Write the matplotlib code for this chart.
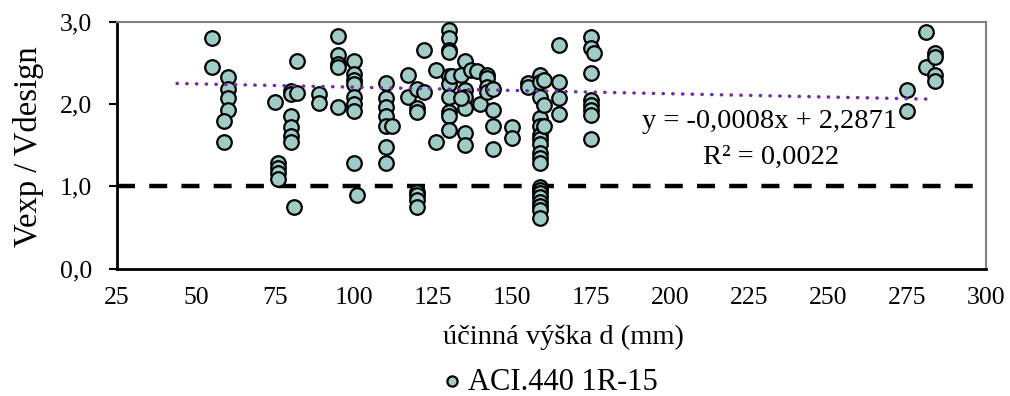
import matplotlib
matplotlib.use("Agg")
import matplotlib.pyplot as plt
import numpy as np

# ---- data ----
d_mm = [55, 55,
        60, 60, 60, 60, 59, 59,
        75, 76, 76, 76, 76,
        80, 80, 80, 80, 80, 80, 82, 82, 81,
        89, 89,
        95, 95, 95, 95, 95,
        100, 100, 100, 100, 100, 100, 100, 100, 101,
        110, 110, 110, 110, 110, 110, 110, 112,
        117, 117,
        120, 120, 120, 120, 120, 120, 120,
        122, 122, 126, 126,
        130, 130, 130, 130, 130, 130, 130, 130, 130, 130, 131,
        135, 135, 135, 135, 135, 135, 134, 134,
        137, 139, 140,
        142, 142, 142, 142,
        144, 144, 144, 144,
        150, 150, 155, 155,
        159, 159, 159, 159, 159, 159, 159, 159, 159, 159, 159,
        159, 159, 159, 159, 159, 159, 159, 159,
        160, 160, 160,
        165, 165, 165, 165,
        175, 175, 175, 175, 175, 175, 175, 175, 176,
        275, 275, 281, 281, 284, 284, 284, 284]
v_ratio = [2.81, 2.45,
           2.33, 2.19, 2.08, 1.93, 1.79, 1.54,
           2.03, 1.28, 1.22, 1.16, 1.09,
           2.16, 2.12, 1.86, 1.72, 1.61, 1.54, 2.52, 2.14, 0.75,
           2.12, 2.02,
           2.83, 2.60, 2.49, 2.45, 1.97,
           2.52, 2.37, 2.30, 2.24, 2.09, 2.00, 1.92, 1.29, 0.90,
           2.26, 2.07, 1.97, 1.85, 1.74, 1.48, 1.28, 1.74,
           2.35, 2.09,
           2.18, 1.95, 1.90, 0.93, 0.89, 0.83, 0.75,
           2.66, 2.15, 2.42, 1.54,
           2.90, 2.80, 2.66, 2.63, 2.34, 2.24, 2.09, 1.91, 1.85, 1.69, 2.34,
           2.52, 2.17, 2.09, 1.95, 1.65, 1.50, 2.36, 2.07,
           2.41, 2.40, 2.00,
           2.36, 2.32, 2.21, 2.15,
           2.18, 1.93, 1.73, 1.46,
           1.72, 1.59, 2.26, 2.21,
           2.35, 2.27, 2.09, 1.83, 1.73, 1.63, 1.57, 1.51, 1.40, 1.35, 1.29,
           0.99, 0.95, 0.92, 0.87, 0.81, 0.76, 0.71, 0.61,
           2.29, 1.99, 1.74,
           2.72, 2.27, 2.08, 1.88,
           2.82, 2.68, 2.38, 2.05, 1.99, 1.93, 1.87, 1.58, 2.62,
           2.17, 1.92, 2.88, 2.45, 2.62, 2.58, 2.36, 2.28]

trend_slope = -0.0008
trend_intercept = 2.2871
trend_range = [44, 283]
limit_value = 1.0

x_ticks = [25, 50, 75, 100, 125, 150, 175, 200, 225, 250, 275, 300]
y_ticks = [0.0, 1.0, 2.0, 3.0]
y_tick_labels = ["0,0", "1,0", "2,0", "3,0"]

series_label = "ACI.440 1R-15"
x_label = "účinná výška d (mm)"
y_label = "Vexp / Vdesign"
eq_text = "y = -0,0008x + 2,2871"
r2_text = "R² = 0,0022"

# ---- figure ----
plt.rcParams["font.family"] = ["Liberation Serif", "DejaVu Serif"]
fig = plt.figure(figsize=(10.10, 3.96), dpi=100)
AX_L, AX_R, AX_T, AX_B = 117, 986, 22, 268.5
AX_W, AX_H = AX_R - AX_L, AX_B - AX_T
ax = fig.add_axes([AX_L/1010, 1-AX_B/396, AX_W/1010, AX_H/396])

ax.set_xlim(25, 300)
ax.set_ylim(0, 3)

# limit line
ax.plot([25, 300], [limit_value, limit_value], color="black", lw=3.2,
        dashes=(4.05, 3.2), zorder=2, dash_capstyle="butt")

# scatter
ax.scatter(d_mm, v_ratio, s=110, facecolor="#A0CBC6", edgecolor="black",
           linewidth=1.6, zorder=3, label=series_label)

# trendline
tx = np.array(trend_range, dtype=float)
ax.plot(tx, trend_slope*tx + trend_intercept, color="#7030A0", lw=2.5,
        linestyle=(0, (0.1, 2.7)), dash_capstyle="round", zorder=4)

# annotation (axes-fraction coordinates)
ax.text((769-AX_L)/AX_W, (AX_B-122)/AX_H, eq_text, transform=ax.transAxes,
        ha="center", va="center", fontsize=20.5, zorder=5)
ax.text((771-AX_L)/AX_W, (AX_B-157)/AX_H, r2_text, transform=ax.transAxes,
        ha="center", va="center", fontsize=20.5, zorder=5)

ax.set_xticks(x_ticks)
ax.set_xticklabels([str(v) for v in x_ticks])
ax.set_yticks(y_ticks)
ax.set_yticklabels(y_tick_labels)
ax.tick_params(axis="x", length=0, pad=13, labelsize=18.5)
ax.tick_params(axis="y", length=6, width=1.5, pad=12, labelsize=18.5, direction="out")

for side in ["left", "bottom"]:
    ax.spines[side].set_color("black")
    ax.spines[side].set_linewidth(2.0)
for side in ["top", "right"]:
    ax.spines[side].set_color("#7f7f7f")
    ax.spines[side].set_linewidth(1.5)

ax.set_xlabel(x_label, fontsize=20.5)
ax.xaxis.set_label_coords((563-AX_L)/AX_W, -(325-AX_B)/AX_H)
ax.set_ylabel(y_label, fontsize=23.5)
ax.yaxis.set_label_coords(-(AX_L-44)/AX_W, (AX_B-147)/AX_H)

leg = fig.legend(loc="center", bbox_to_anchor=(548/1010, 1-382/396), frameon=False,
                 fontsize=22, handletextpad=0.1, handlelength=0.9, markerscale=0.7,
                 scatterpoints=1, borderpad=0.1)

fig.savefig("out.png", dpi=100)
